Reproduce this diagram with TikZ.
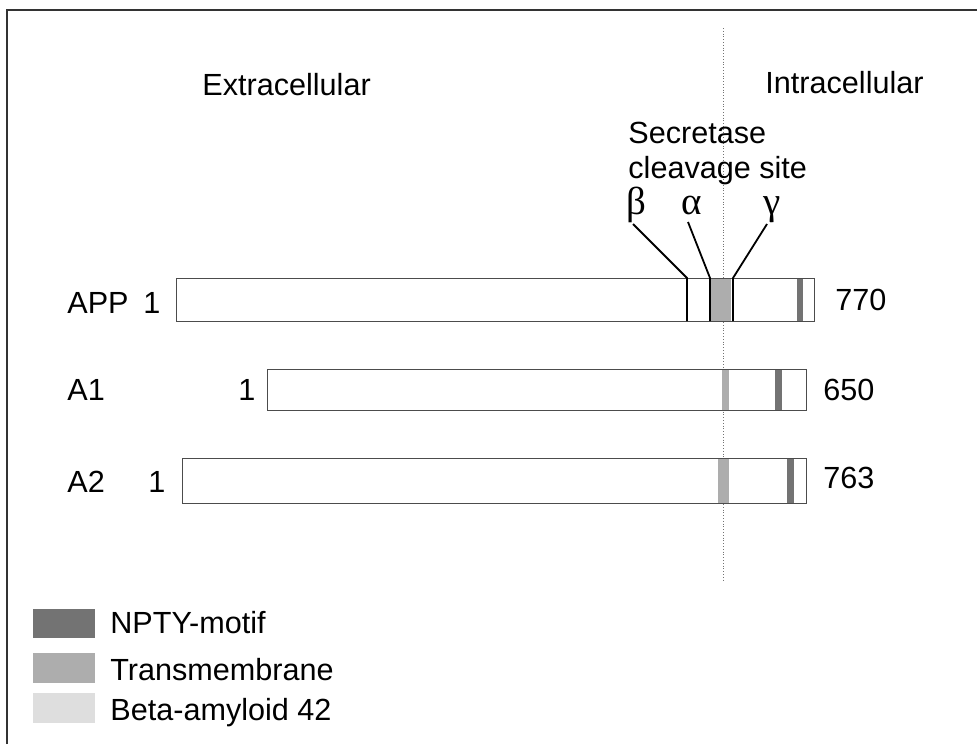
\documentclass[tikz,border=0pt]{standalone}
\usepackage{fontspec}
\setmainfont{Liberation Sans}
\newfontfamily\greekfont{Liberation Serif}
\usepackage{xcolor}

\begin{document}
\begin{tikzpicture}[x=0.5pt,y=-0.5pt,
    lbl/.style={font=\fontsize{15.3}{18}\selectfont, inner sep=0pt, anchor=base west},
    grk/.style={font=\greekfont\fontsize{19.5}{22}\selectfont, inner sep=0pt, anchor=base},
    bar/.style={draw=black!70, line width=0.5pt},
    cut/.style={draw=black, line width=0.9pt},
    npty/.style={fill=black!55},
    tm/.style={fill=black!32},
    abeta/.style={fill=black!13}]
    \useasboundingbox (0,0) rectangle (977,744);
    % Marco
    \draw[black!80, line width=1pt] (7,744) -- (7,10) -- (977,10);
    % Membrana
    \draw[densely dotted, black!55] (723,28) -- (723,580);
    % Rotulos de los lados
    \node[lbl] (extra) at (202,95) {Extracellular};
    \node[lbl] (intra) at (765,93) {Intracellular};
    \node[lbl] (secre) at (628,143) {Secretase};
    \node[lbl] (cleav) at (628,178) {cleavage site};
    % Sitios de corte
    \node[grk] (beta) at (636,214) {β};
    \node[grk] (alpha) at (692,214) {α};
    \node[grk] (gamma) at (772,214) {γ};
    % APP
    \fill[tm] (711,278) rectangle (731,321);
    \fill[npty] (797,278) rectangle (803,321);
    \draw[bar] (176,278) rectangle (814,321);
    \node[lbl] (app) at (67,313) {APP};
    \node[lbl] (appA) at (143,313) {1};
    \node[lbl] (appB) at (835,310) {770};
    \coordinate (betaTop) at (633,224);
    \coordinate (alphaTop) at (688,222);
    \coordinate (gammaTop) at (767,224);
    \coordinate (betaCut) at (687,278);
    \coordinate (alphaCut) at (710,278);
    \coordinate (gammaCut) at (733,278);
    \coordinate (betaEnd) at (687,321);
    \coordinate (alphaEnd) at (710,321);
    \coordinate (gammaEnd) at (733,321);
    \draw[cut] (betaTop) -- (betaCut) -- (betaEnd);
    \draw[cut] (alphaTop) -- (alphaCut) -- (alphaEnd);
    \draw[cut] (gammaTop) -- (gammaCut) -- (gammaEnd);
    % A1
    \fill[tm] (722,369) rectangle (729,410);
    \fill[npty] (775,369) rectangle (782,410);
    \draw[bar] (267,369) rectangle (806,410);
    \node[lbl] (aone) at (67,400) {A1};
    \node[lbl] (aoneA) at (238,400) {1};
    \node[lbl] (aoneB) at (823,400) {650};
    % A2
    \fill[tm] (718,458) rectangle (729,503);
    \fill[npty] (787,458) rectangle (794,503);
    \draw[bar] (182,458) rectangle (806,503);
    \node[lbl] (atwo) at (67,492) {A2};
    \node[lbl] (atwoA) at (148,492) {1};
    \node[lbl] (atwoB) at (823,488) {763};
    % Leyenda
    \fill[npty] (33,609) rectangle (95,638);
    \fill[tm] (33,653) rectangle (95,683);
    \fill[abeta] (33,693) rectangle (95,723);
    \node[lbl] (legA) at (110,633) {NPTY-motif};
    \node[lbl] (legB) at (110,680) {Transmembrane};
    \node[lbl] (legC) at (110,720) {Beta-amyloid 42};
\end{tikzpicture}
\end{document}
